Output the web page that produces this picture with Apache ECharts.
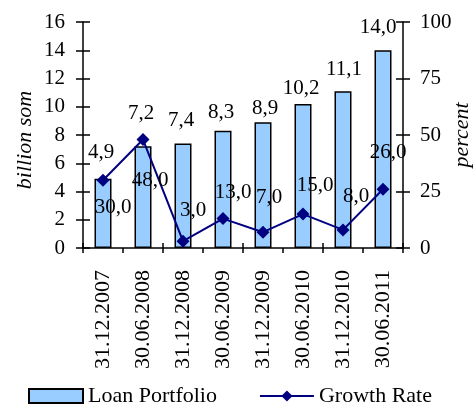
<!DOCTYPE html>
<html>
<head>
<meta charset="utf-8">
<script src="https://cdn.jsdelivr.net/npm/echarts@6/dist/echarts.min.js"></script>
<style>
html,body{margin:0;padding:0;background:#fff;}
#chart{width:474px;height:413px;}
</style>
</head>
<body>
<div id="chart"></div>
<script>
const categories = ['31.12.2007','30.06.2008','31.12.2008','30.06.2009','31.12.2009','30.06.2010','31.12.2010','30.06.2011'];
const loanPortfolio = [4.9, 7.2, 7.4, 8.3, 8.9, 10.2, 11.1, 14.0];
const growthRate = [30.0, 48.0, 3.0, 13.0, 7.0, 15.0, 8.0, 26.0];
const leftTicks = [0, 2, 4, 6, 8, 10, 12, 14, 16];
const rightTicks = [0, 25, 50, 75, 100];

// label nudges (style only)
const barLabelNudge = [[-2,-17],[-2,-24],[-2,-14],[-2,-9],[2,-5],[-2,-6],[1,-13],[-5,-14]];
const lineLabelNudge = [[10,27],[7,41],[10,-31],[10,-26],[6,-35],[12,-29],[13,-33],[5,-37]];

const FONT = '"Liberation Serif","Times New Roman",serif';
const FS = 21;
const FSL = 22;
const fmt = v => v.toFixed(1).replace('.', ',');

const chart = echarts.init(document.getElementById('chart'), null, {renderer:'canvas'});
const axisLine = {show:true, lineStyle:{color:'#000', width:1.5}};
const lmin = leftTicks[0], lmax = leftTicks[leftTicks.length-1], lint = leftTicks[1]-leftTicks[0];
const rmin = rightTicks[0], rmax = rightTicks[rightTicks.length-1], rint = rightTicks[1]-rightTicks[0];

chart.setOption({
  animation:false,
  backgroundColor:'#fff',
  textStyle:{fontFamily:FONT},
  grid:{left:83, right:71, top:22, bottom:165, containLabel:false, outerBoundsMode:'none'},
  legend:{
    bottom:1, left:23, itemGap:42, itemWidth:54, itemHeight:14,
    textStyle:{fontFamily:FONT, fontSize:FSL, color:'#000'},
    data:[
      {name:'Loan Portfolio', icon:'rect'},
      {name:'Growth Rate'}
    ]
  },
  xAxis:[{
    type:'category', data:categories, position:'bottom',
    axisLine:axisLine,
    axisTick:{show:true, length:5, lineStyle:{color:'#000', width:1.5}},
    axisLabel:{rotate:90, margin:22, fontFamily:FONT, fontSize:FSL, color:'#000'},
    splitLine:{show:false}
  },{
    type:'category', data:categories, position:'bottom', gridIndex:0,
    axisLine:{show:false},
    axisTick:{show:true, inside:true, length:5, lineStyle:{color:'#000', width:1.5}},
    axisLabel:{show:false}, splitLine:{show:false}
  }],
  yAxis:[{
    type:'value', min:lmin, max:lmax, interval:lint, position:'left',
    name:'billion som', nameLocation:'middle', nameGap:47, nameMoveOverlap:false,
    nameTextStyle:{fontFamily:FONT, fontSize:FSL, fontStyle:'italic', color:'#000', padding:[0,10,0,0]},
    axisLine:axisLine,
    axisTick:{show:true, length:7, lineStyle:{color:'#000', width:1.5}},
    axisLabel:{fontFamily:FONT, fontSize:FS, color:'#000', margin:18},
    splitLine:{show:false}
  },{
    type:'value', min:rmin, max:rmax, interval:rint, position:'right',
    name:'percent', nameLocation:'middle', nameGap:48, nameMoveOverlap:false,
    nameTextStyle:{fontFamily:FONT, fontSize:FSL, fontStyle:'italic', color:'#000'},
    axisLine:axisLine,
    axisTick:{show:true, length:7, lineStyle:{color:'#000', width:1.5}},
    axisLabel:{fontFamily:FONT, fontSize:FS, color:'#000', margin:17},
    splitLine:{show:false}
  },{
    type:'value', min:lmin, max:lmax, interval:lint, position:'left',
    axisLine:{show:false},
    axisTick:{show:true, inside:true, length:7, lineStyle:{color:'#000', width:1.5}},
    axisLabel:{show:false}, splitLine:{show:false}
  },{
    type:'value', min:rmin, max:rmax, interval:rint, position:'right',
    axisLine:{show:false},
    axisTick:{show:true, inside:true, length:7, lineStyle:{color:'#000', width:1.5}},
    axisLabel:{show:false}, splitLine:{show:false}
  }],
  series:[{
    name:'Loan Portfolio', type:'bar', xAxisIndex:0, yAxisIndex:0,
    barWidth:17,
    itemStyle:{color:'#99CCFF', borderColor:'#000', borderWidth:1.5},
    data: loanPortfolio.map((v,i)=>({value:v, label:{offset:barLabelNudge[i]}})),
    label:{show:true, position:'top', distance:0, lineHeight:18,
      fontFamily:FONT, fontSize:FS, color:'#000', formatter:p=>fmt(p.value)},
    z:2
  },{
    name:'Growth Rate', type:'line', xAxisIndex:0, yAxisIndex:1,
    symbol:'diamond', symbolSize:13,
    lineStyle:{color:'#000080', width:2},
    itemStyle:{color:'#000080'},
    data: growthRate.map((v,i)=>({value:v, label:{offset:lineLabelNudge[i]}})),
    label:{show:true, position:'inside', fontFamily:FONT, fontSize:FS, color:'#000',
      formatter:p=>fmt(p.value)},
    z:3
  }]
});
</script>
</body>
</html>
